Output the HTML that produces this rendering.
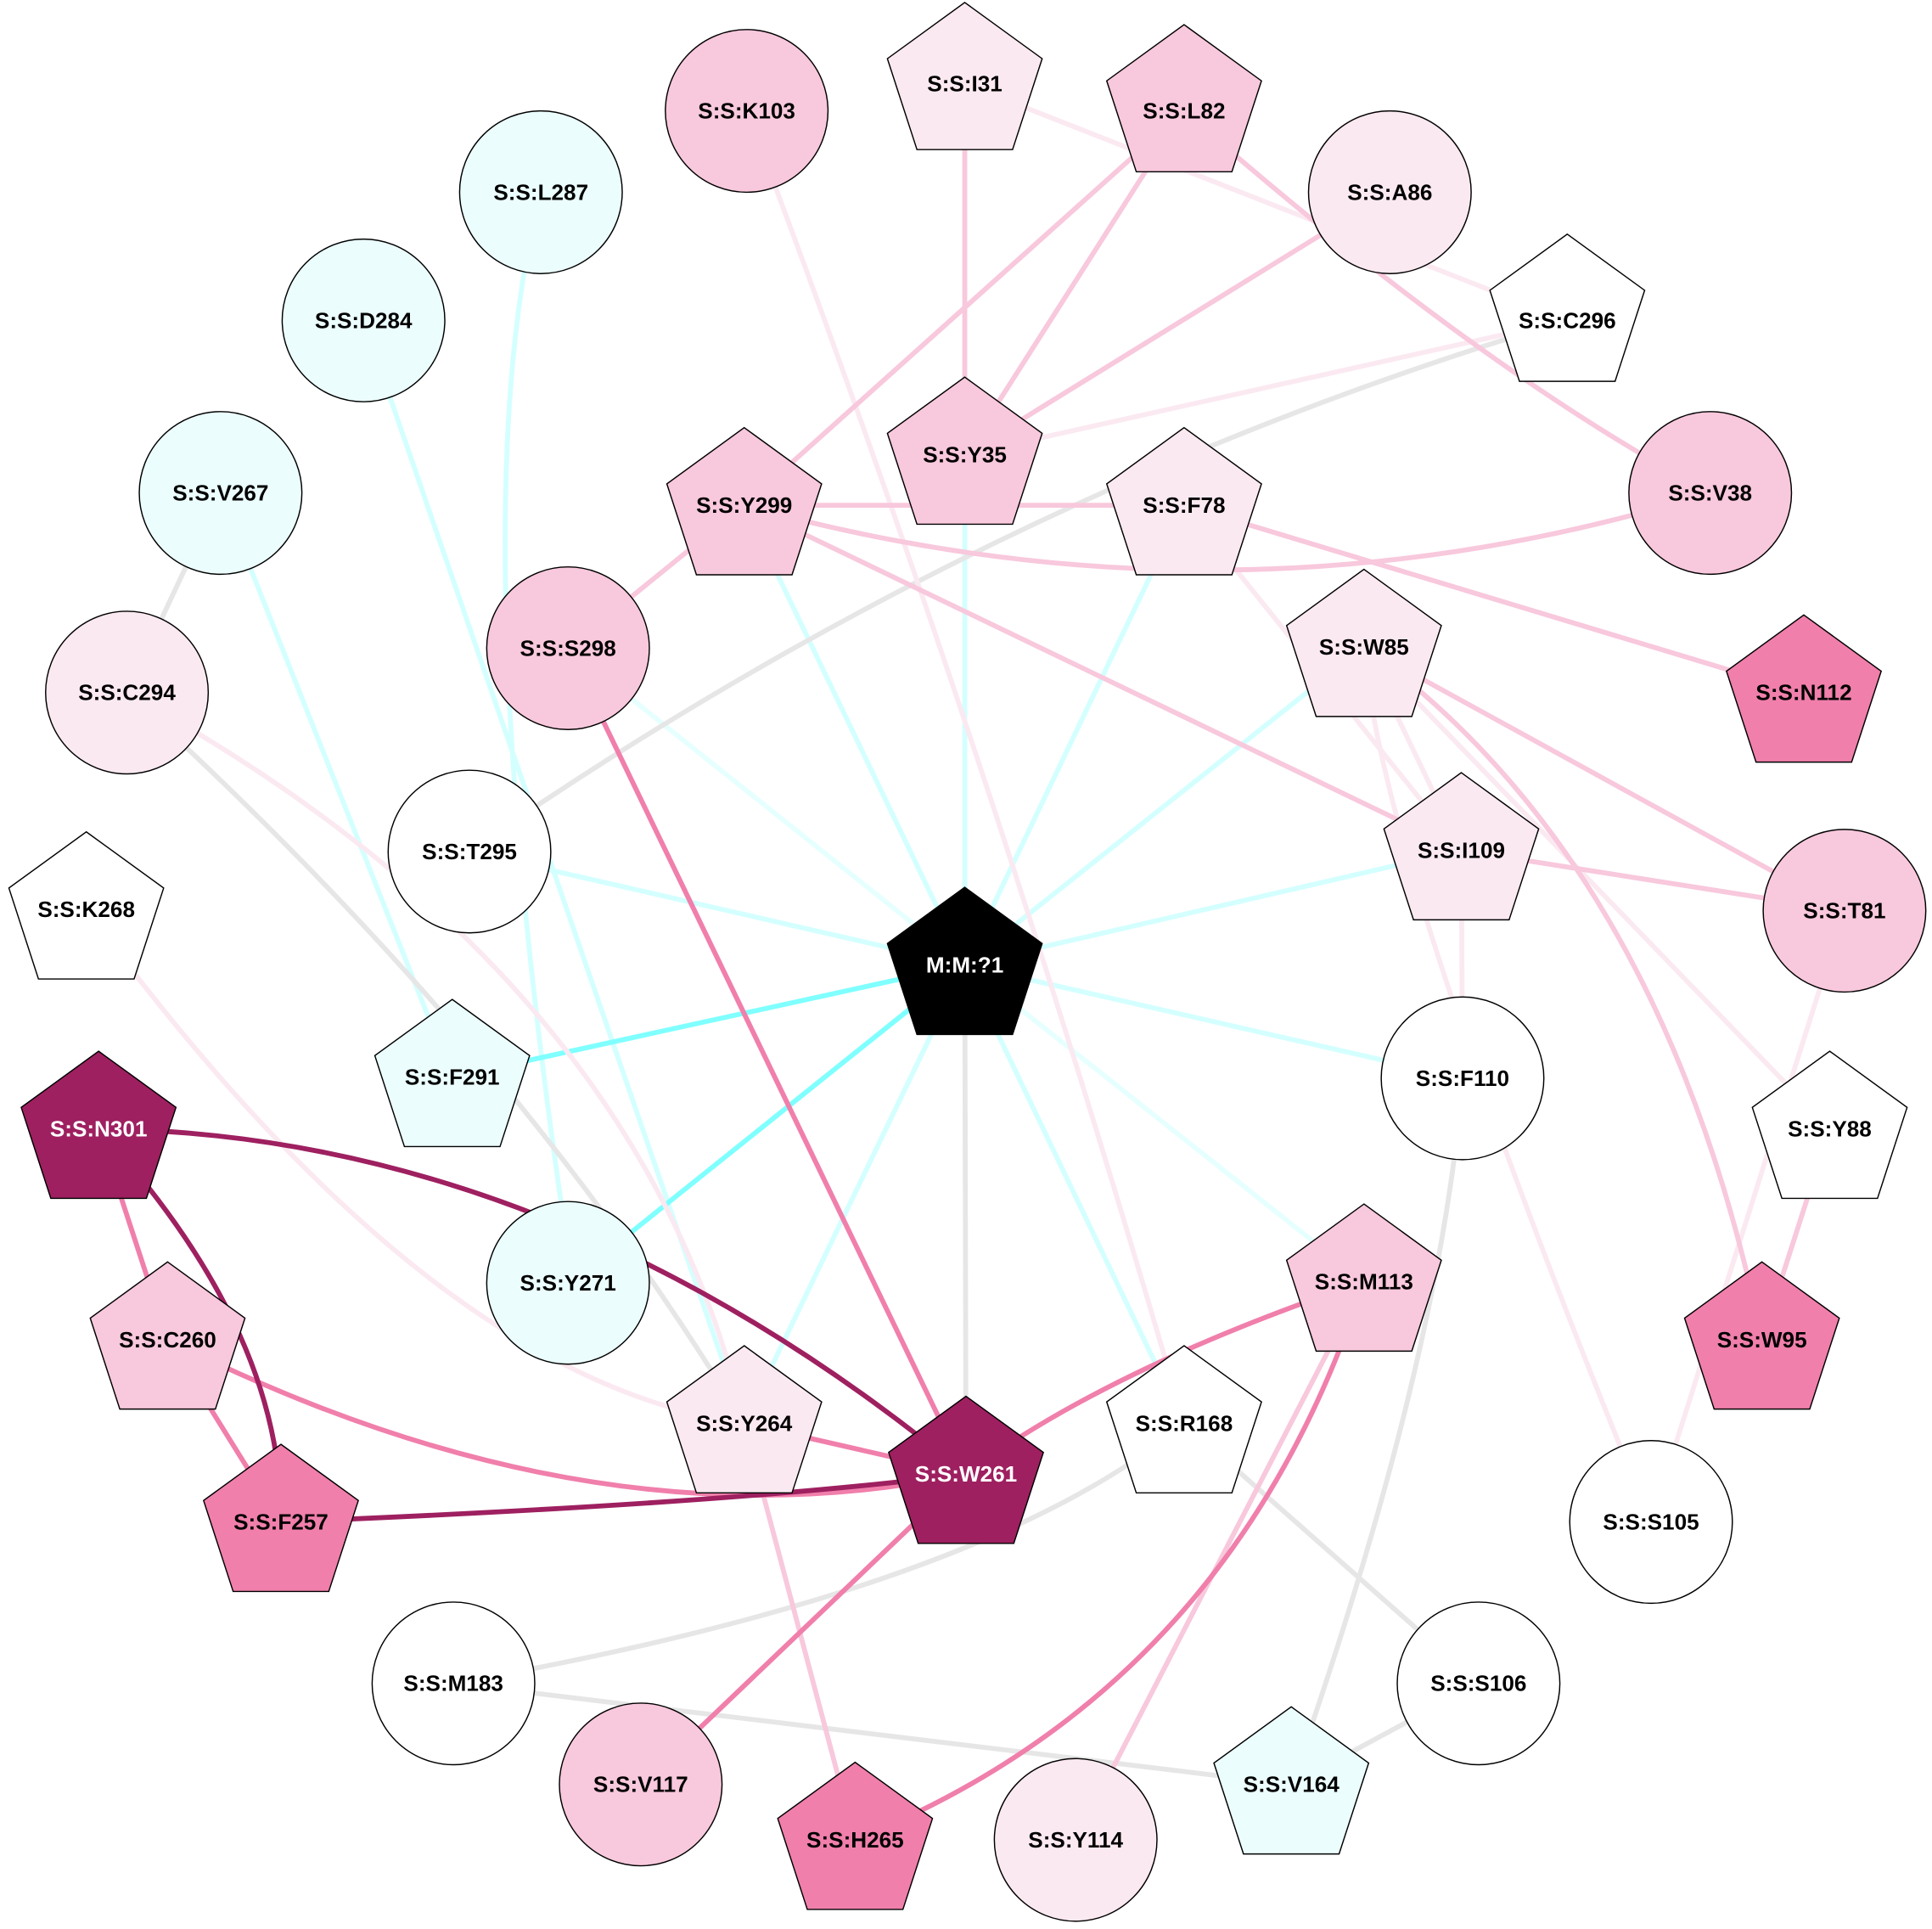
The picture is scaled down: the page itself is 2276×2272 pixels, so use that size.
<!DOCTYPE html>
<html><head><meta charset="utf-8"><style>
html,body{margin:0;padding:0;background:#fff;}
svg{display:block;}
text{font-family:"Liberation Sans",sans-serif;font-weight:bold;font-size:18px;text-anchor:middle;dominant-baseline:central;}
</style></head><body>
<svg width="2276" height="2272" viewBox="0 0 1568 1565.3" xmlns="http://www.w3.org/2000/svg">
<rect width="1568" height="1566" fill="#fff"/>
<g fill="none" stroke-width="4" stroke-linecap="round">
<g stroke="#d4ffff">
<line x1="783" y1="783" x2="783" y2="369"/>
<line x1="783" y1="783" x2="604" y2="410"/>
<line x1="783" y1="783" x2="461" y2="526" stroke="#e6ffff"/>
<line x1="783" y1="783" x2="381" y2="691"/>
<line x1="783" y1="783" x2="604" y2="1155"/>
<line x1="783" y1="783" x2="961" y2="1155"/>
<line x1="783" y1="783" x2="1107" y2="1040" stroke="#e6ffff"/>
<line x1="783" y1="783" x2="1187" y2="875"/>
<line x1="783" y1="783" x2="1186" y2="690"/>
<line x1="783" y1="783" x2="1107" y2="525"/>
<line x1="783" y1="783" x2="961" y2="410"/>
<line x1="179" y1="400" x2="367" y2="874"/>
<line x1="295" y1="260" x2="604" y2="1155"/>
<path d="M439 156 Q370 420 465 1041"/>
</g>
<g stroke="#80ffff">
<line x1="783" y1="783" x2="367" y2="874"/>
<line x1="783" y1="783" x2="461" y2="1041"/>
</g>
<g stroke="#e6e6e6">
<line x1="783" y1="783" x2="784" y2="1196"/>
<line x1="179" y1="400" x2="103" y2="562"/>
<path d="M103 562 Q420 850 604 1155"/>
<path d="M381 691 Q800 400 1272 260"/>
<path d="M961 1155 Q800 1290 368 1366"/>
<line x1="961" y1="1155" x2="1200" y2="1366"/>
<line x1="368" y1="1366" x2="1048" y2="1448"/>
<line x1="1200" y1="1366" x2="1048" y2="1448"/>
<path d="M1187 875 Q1170 1100 1048 1448"/>
</g>
<g stroke="#fbe9f1">
<path d="M70 738 Q350 1120 604 1155"/>
<path d="M103 562 Q520 790 604 1155"/>
<path d="M606 90 Q800 600 961 1155"/>
<line x1="783" y1="68" x2="1272" y2="260"/>
<line x1="1272" y1="260" x2="783" y2="369"/>
<line x1="961" y1="410" x2="1186" y2="690"/>
<line x1="1107" y1="525" x2="1186" y2="690"/>
<path d="M1107 525 Q1120 700 1340 1235"/>
<line x1="1107" y1="525" x2="1485" y2="916"/>
<line x1="1186" y1="690" x2="1187" y2="875"/>
<line x1="1497" y1="739" x2="1340" y2="1235"/>
</g>
<g stroke="#f8c8dc">
<line x1="783" y1="68" x2="783" y2="369"/>
<line x1="961" y1="90" x2="783" y2="369"/>
<line x1="961" y1="90" x2="604" y2="410"/>
<path d="M961 90 Q1200 300 1388 400"/>
<line x1="1128" y1="156" x2="783" y2="369"/>
<line x1="604" y1="410" x2="461" y2="526"/>
<line x1="604" y1="410" x2="961" y2="410"/>
<path d="M604 410 Q1000 520 1388 400"/>
<line x1="604" y1="410" x2="1186" y2="690"/>
<line x1="961" y1="410" x2="1464" y2="562"/>
<line x1="1107" y1="525" x2="1497" y2="739"/>
<path d="M1107 525 Q1350 700 1430 1087"/>
<line x1="1186" y1="690" x2="1497" y2="739"/>
<line x1="1485" y1="916" x2="1430" y2="1087"/>
<line x1="604" y1="1155" x2="694" y2="1493"/>
<line x1="1107" y1="1040" x2="873" y2="1493"/>
</g>
<g stroke="#f07fab">
<line x1="461" y1="526" x2="784" y2="1196"/>
<line x1="80" y1="916" x2="136" y2="1087"/>
<line x1="136" y1="1087" x2="228" y2="1235"/>
<path d="M136 1087 Q480 1260 784 1196"/>
<line x1="604" y1="1155" x2="784" y2="1196"/>
<path d="M1107 1040 Q900 1110 784 1196"/>
<path d="M1107 1040 Q1000 1370 694 1493"/>
<line x1="784" y1="1196" x2="520" y2="1448"/>
</g>
<g stroke="#9e2060">
<path d="M80 916 Q450 920 784 1196"/>
<path d="M80 916 Q230 1080 228 1235"/>
<path d="M228 1235 Q600 1220 784 1196"/>
</g>
</g>
<defs><polygon id="p" points="0,-66 62.8,-20.4 38.8,53.4 -38.8,53.4 -62.8,-20.4" stroke="#000" stroke-width="1"/></defs>
<g stroke="#000" stroke-width="1">
<circle cx="606" cy="90" r="66" fill="#f8c8dc"/>
<circle cx="439" cy="156" r="66" fill="#ebfdfd"/>
<circle cx="1128" cy="156" r="66" fill="#fbe9f1"/>
<circle cx="295" cy="260" r="66" fill="#ebfdfd"/>
<circle cx="179" cy="400" r="66" fill="#ebfdfd"/>
<circle cx="1388" cy="400" r="66" fill="#f8c8dc"/>
<circle cx="103" cy="562" r="66" fill="#fbe9f1"/>
<circle cx="461" cy="526" r="66" fill="#f8c8dc"/>
<circle cx="381" cy="691" r="66" fill="#fff"/>
<circle cx="1497" cy="739" r="66" fill="#f8c8dc"/>
<circle cx="1187" cy="875" r="66" fill="#fff"/>
<circle cx="461" cy="1041" r="66" fill="#ebfdfd"/>
<circle cx="1340" cy="1235" r="66" fill="#fff"/>
<circle cx="368" cy="1366" r="66" fill="#fff"/>
<circle cx="1200" cy="1366" r="66" fill="#fff"/>
<circle cx="520" cy="1448" r="66" fill="#f8c8dc"/>
<circle cx="873" cy="1493" r="66" fill="#fbe9f1"/>
</g>
<use href="#p" x="783" y="68" fill="#fbe9f1"/>
<use href="#p" x="961" y="86" fill="#f8c8dc"/>
<use href="#p" x="1272" y="256" fill="#fff"/>
<use href="#p" x="783" y="372" fill="#f8c8dc"/>
<use href="#p" x="604" y="413" fill="#f8c8dc"/>
<use href="#p" x="961" y="413" fill="#fbe9f1"/>
<use href="#p" x="1107" y="528" fill="#fbe9f1"/>
<use href="#p" x="1464" y="565" fill="#f07fab"/>
<use href="#p" x="1186" y="693" fill="#fbe9f1"/>
<use href="#p" x="70" y="741" fill="#fff"/>
<use href="#p" x="783" y="786" fill="#000"/>
<use href="#p" x="367" y="877" fill="#ebfdfd"/>
<use href="#p" x="1485" y="919" fill="#fff"/>
<use href="#p" x="80" y="919" fill="#9e2060"/>
<use href="#p" x="1107" y="1043" fill="#f8c8dc"/>
<use href="#p" x="1430" y="1090" fill="#f07fab"/>
<use href="#p" x="136" y="1090" fill="#f8c8dc"/>
<use href="#p" x="604" y="1158" fill="#fbe9f1"/>
<use href="#p" x="961" y="1158" fill="#fff"/>
<use href="#p" x="784" y="1199" fill="#9e2060"/>
<use href="#p" x="228" y="1238" fill="#f07fab"/>
<use href="#p" x="1048" y="1451" fill="#ebfdfd"/>
<use href="#p" x="694" y="1496" fill="#f07fab"/>
<g fill="#000">
<text x="606" y="90">S:S:K103</text>
<text x="439" y="156">S:S:L287</text>
<text x="1128" y="156">S:S:A86</text>
<text x="295" y="260">S:S:D284</text>
<text x="179" y="400">S:S:V267</text>
<text x="1388" y="400">S:S:V38</text>
<text x="103" y="562">S:S:C294</text>
<text x="461" y="526">S:S:S298</text>
<text x="381" y="691">S:S:T295</text>
<text x="1497" y="739">S:S:T81</text>
<text x="1187" y="875">S:S:F110</text>
<text x="461" y="1041">S:S:Y271</text>
<text x="1340" y="1235">S:S:S105</text>
<text x="368" y="1366">S:S:M183</text>
<text x="1200" y="1366">S:S:S106</text>
<text x="520" y="1448">S:S:V117</text>
<text x="873" y="1493">S:S:Y114</text>
<text x="783" y="68">S:S:I31</text>
<text x="961" y="90">S:S:L82</text>
<text x="1272" y="260">S:S:C296</text>
<text x="783" y="369">S:S:Y35</text>
<text x="604" y="410">S:S:Y299</text>
<text x="961" y="410">S:S:F78</text>
<text x="1107" y="525">S:S:W85</text>
<text x="1464" y="562">S:S:N112</text>
<text x="1186" y="690">S:S:I109</text>
<text x="70" y="738">S:S:K268</text>
<text x="367" y="874">S:S:F291</text>
<text x="1485" y="916">S:S:Y88</text>
<text x="1107" y="1040">S:S:M113</text>
<text x="1430" y="1087">S:S:W95</text>
<text x="136" y="1087">S:S:C260</text>
<text x="604" y="1155">S:S:Y264</text>
<text x="961" y="1155">S:S:R168</text>
<text x="228" y="1235">S:S:F257</text>
<text x="1048" y="1448">S:S:V164</text>
<text x="694" y="1493">S:S:H265</text>
</g>
<g fill="#fff">
<text x="783" y="783">M:M:?1</text>
<text x="80" y="916">S:S:N301</text>
<text x="784" y="1196">S:S:W261</text>
</g>
</svg>
</body></html>
